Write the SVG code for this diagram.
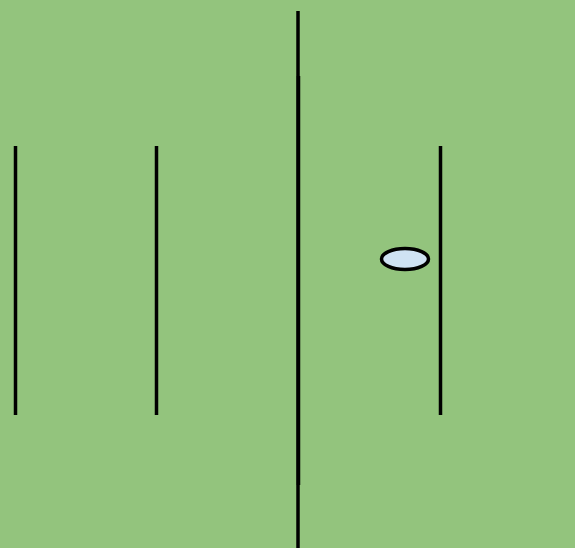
<svg xmlns="http://www.w3.org/2000/svg" width="575" height="548" viewBox="0 0 575 548">
<style>
.ln{stroke:#000;stroke-width:3.5;fill:none}
.node{fill:#cfe2f3;stroke:#000;stroke-width:3.5}
</style>
<rect width="575" height="548" fill="#93c47d"/>
<g id="connectors">
<line class="ln" x1="298" y1="11" x2="298" y2="548"/>
<line class="ln" x1="298.5" y1="76" x2="298.5" y2="485"/>
<line class="ln" x1="15.5" y1="146" x2="15.5" y2="415"/>
<line class="ln" x1="156.5" y1="146" x2="156.5" y2="415"/>
<line class="ln" x1="440.5" y1="146" x2="440.5" y2="415"/>
</g>
<g id="node1">
<ellipse class="node" cx="405" cy="259" rx="23.5" ry="10.5"/>
</g>
</svg>
